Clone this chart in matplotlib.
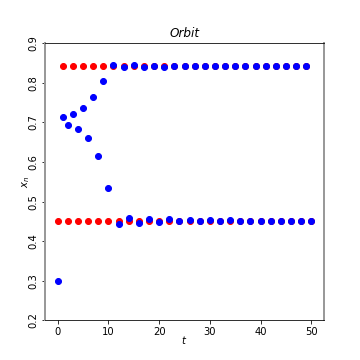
import matplotlib
matplotlib.use("Agg")
import matplotlib.pyplot as plt

# orbit values
t = list(range(51))
orbit = [0.300, 0.714, 0.694, 0.722, 0.683, 0.736, 0.660, 0.763, 0.616, 0.805,
         0.535, 0.846, 0.443, 0.839, 0.459, 0.844, 0.447, 0.840, 0.456, 0.843,
         0.449, 0.841, 0.455, 0.843, 0.450, 0.842, 0.454, 0.842, 0.451, 0.842,
         0.453, 0.842, 0.451, 0.842, 0.453, 0.842, 0.452, 0.842, 0.452, 0.842,
         0.452, 0.842, 0.452, 0.842, 0.452, 0.842, 0.452, 0.842, 0.452, 0.842,
         0.452]
# period-2 cycle (red)
cycle_lo = 0.452
cycle_hi = 0.842
cycle = [cycle_lo if i % 2 == 0 else cycle_hi for i in t]

fig, ax = plt.subplots(figsize=(5, 5), dpi=72)

ax.plot(t, cycle, 'o', color='red', markersize=6)
ax.plot(t, orbit, 'o', color='blue', markersize=6)

ax.set_ylim(0.2, 0.9)
ax.set_title('Orbit', fontstyle='italic')
ax.set_xlabel('$t$', labelpad=-3)
ax.set_ylabel('$x_n$', labelpad=-4)

ax.tick_params(axis='y', labelrotation=90)
for tl in ax.get_yticklabels():
    tl.set_va('center')

for side in ['left', 'right']:
    ax.spines[side].set_color('#999999')
    ax.spines[side].set_linewidth(2)

fig.savefig('out.png', dpi=72)
